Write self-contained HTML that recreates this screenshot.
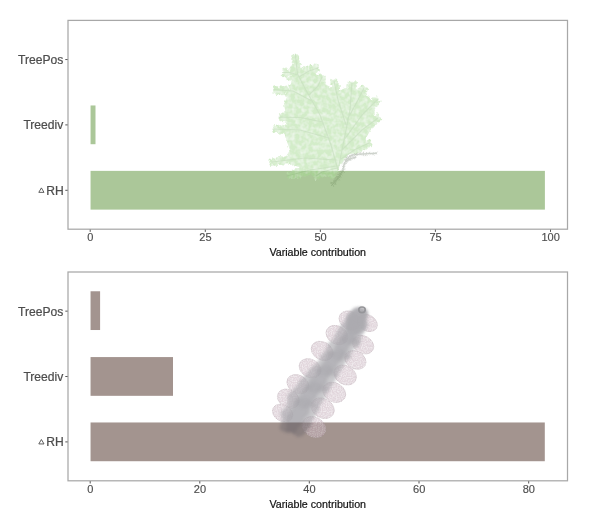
<!DOCTYPE html>
<html><head><meta charset="utf-8">
<style>
html,body{margin:0;padding:0;background:#fff;}
body{width:600px;height:519px;position:relative;overflow:hidden;font-family:"Liberation Sans",sans-serif;}
svg{position:absolute;left:0;top:0;will-change:transform;}
text{font-family:"Liberation Sans",sans-serif;}
.yl{font-size:12.1px;fill:#4d4d4d;text-anchor:end;stroke:#4d4d4d;stroke-width:0.22px;}
.xl{font-size:11px;fill:#4d4d4d;text-anchor:middle;stroke:#4d4d4d;stroke-width:0.15px;}
.xt{font-size:10.7px;fill:#111;text-anchor:middle;stroke:#111;stroke-width:0.2px;}
</style></head><body>
<svg width="600" height="519" viewBox="0 0 600 519">
<rect width="600" height="519" fill="#fff"/>
<g id="p1">
<rect x="90.55" y="105.47" width="4.95" height="38.75" fill="#abc799"/>
<rect x="90.55" y="170.87" width="454.35" height="38.75" fill="#abc799"/>

<defs>
<filter id="mf" x="-10%" y="-10%" width="120%" height="120%">
<feTurbulence type="fractalNoise" baseFrequency="0.35" numOctaves="2" seed="3" result="n"/>
<feDisplacementMap in="SourceGraphic" in2="n" scale="3" xChannelSelector="R" yChannelSelector="G" result="d"/>
<feTurbulence type="fractalNoise" baseFrequency="0.22" numOctaves="2" seed="8" result="n2"/>
<feColorMatrix in="n2" type="matrix" values="0 0 0 0 1  0 0 0 0 1  0 0 0 0 1  0 0 0 1.1 -0.42" result="w"/>
<feComposite in="w" in2="d" operator="in" result="wc"/>
<feMerge result="m"><feMergeNode in="d"/><feMergeNode in="wc"/></feMerge>
<feGaussianBlur in="m" stdDeviation="0.55"/>
</filter>
<filter id="b1"><feGaussianBlur stdDeviation="0.6"/></filter>
<filter id="tw"><feGaussianBlur stdDeviation="0.35"/></filter>
</defs>
<g opacity="0.5">
<g filter="url(#mf)">
<path d="M297.0 66.0 L306.0 72.0 L316.0 74.0 L322.0 82.0 L330.0 87.0 L337.5 92.0 L345.0 88.0 L354.0 88.0 L362.0 91.0 L369.0 97.0 L374.0 104.0 L375.0 118.0 L371.0 129.0 L365.0 140.0 L358.0 148.0 L348.0 155.0 L340.0 166.0 L320.0 168.0 L300.0 168.0 L284.0 160.0 L290.0 150.0 L284.0 133.0 L287.0 120.0 L284.0 104.0 L290.0 90.0 L292.0 78.0Z" fill="#a9dc95"/>
<path d="M328.9 139.3L320.6 137.3M328.9 139.3L334.5 131.0M327.8 136.3L319.5 134.4M327.8 136.3L332.1 130.2M326.7 133.3L318.2 132.0M326.7 133.3L330.4 127.3M325.6 130.3L318.8 129.3M325.6 130.3L329.4 122.5M324.5 127.3L315.3 126.4M324.5 127.3L329.5 120.7M323.4 124.3L317.3 121.5M323.4 124.3L326.8 117.3M322.3 121.3L316.1 119.0M322.3 121.3L325.8 116.2M321.2 118.3L314.2 117.3M321.2 118.3L325.7 112.5M320.1 115.3L313.2 113.9M320.1 115.3L323.6 109.3M318.6 112.5L310.5 113.1M318.6 112.5L322.4 105.8M317.0 109.7L310.9 108.5M317.0 109.7L318.8 103.8M315.4 106.9L308.4 106.0M315.4 106.9L318.3 100.3M313.9 104.1L306.6 104.3M313.9 104.1L315.6 99.3M312.3 101.3L305.4 100.6M312.3 101.3L315.1 94.9M310.7 98.6L305.8 98.3M310.7 98.6L313.0 92.6M309.1 95.8L304.4 95.0M309.1 95.8L312.5 90.1M307.6 93.0L303.0 92.1M307.6 93.0L308.9 88.5M306.0 90.2L300.4 88.8M306.0 90.2L308.4 85.4M304.5 87.3L300.1 87.1M304.5 87.3L306.7 83.6M303.0 84.5L298.9 83.9M303.0 84.5L304.7 80.5M301.6 81.7L296.2 81.6M301.6 81.7L304.0 78.2M300.1 78.9L296.2 78.2M300.1 78.9L302.5 74.6M298.6 76.0L295.0 76.2M298.6 76.0L300.0 72.5M297.4 73.1L293.7 70.8M297.4 73.1L299.8 70.3M297.0 69.9L294.2 68.4M297.0 69.9L299.7 67.7M296.7 66.7L293.7 65.0M296.7 66.7L299.8 64.0M296.3 63.6L293.1 62.3M296.3 63.6L298.3 61.3M296.0 60.4L292.6 59.0M296.0 60.4L297.9 58.2M295.6 57.2L292.6 56.1M295.6 57.2L297.9 55.8M299.0 77.0L299.3 67.6M299.0 77.0L306.7 79.2M301.7 75.4L301.2 69.1M301.7 75.4L307.7 78.6M304.5 73.7L304.2 67.6M304.5 73.7L311.0 76.1M307.2 72.1L307.2 66.8M307.2 72.1L312.0 73.7M310.1 70.6L310.9 65.5M310.1 70.6L314.6 73.5M313.1 69.6L315.0 65.0M313.1 69.6L316.1 71.5M316.1 68.6L317.6 65.5M316.1 68.6L318.7 70.3M297.5 75.0L290.1 79.1M297.5 75.0L296.3 67.2M294.5 74.0L288.0 79.4M294.5 74.0L292.5 66.6M291.4 73.0L286.7 75.4M291.4 73.0L290.7 68.0M288.3 72.5L286.0 77.3M288.3 72.5L286.1 69.0M285.1 72.5L283.2 75.8M285.1 72.5L283.6 69.3M309.0 95.0L307.7 88.1M309.0 95.0L317.6 97.8M311.3 92.7L309.3 84.8M311.3 92.7L319.2 95.3M313.5 90.5L312.0 84.3M313.5 90.5L320.9 92.8M315.8 88.2L314.2 82.6M315.8 88.2L322.4 89.6M318.0 85.9L315.4 81.1M318.0 85.9L323.4 85.1M319.3 83.0L317.2 79.9M319.3 83.0L324.6 82.7M320.6 80.1L318.7 76.6M320.6 80.1L324.6 79.4M321.9 77.2L320.2 74.9M321.9 77.2L324.4 76.9M312.0 101.0L306.0 104.4M312.0 101.0L310.2 93.0M309.2 99.5L301.7 103.4M309.2 99.5L309.3 91.3M306.3 98.0L299.9 100.1M306.3 98.0L305.9 91.1M303.5 96.5L297.6 98.7M303.5 96.5L302.9 88.5M300.7 95.0L295.4 98.8M300.7 95.0L300.2 88.9M297.8 93.5L292.9 96.0M297.8 93.5L298.0 86.7M295.0 92.1L289.1 94.8M295.0 92.1L293.9 86.2M292.1 90.9L289.2 94.6M292.1 90.9L289.6 85.5M288.9 90.7L286.2 95.3M288.9 90.7L286.1 87.1M285.7 90.5L282.7 93.7M285.7 90.5L283.5 87.1M282.5 90.3L279.8 93.6M282.5 90.3L280.9 86.8M279.3 90.1L276.6 93.4M279.3 90.1L277.3 87.7M276.1 89.9L273.4 92.3M276.1 89.9L274.4 86.8M323.0 122.0L318.0 127.9M323.0 122.0L319.4 116.1M319.9 121.4L313.4 125.8M319.9 121.4L315.6 113.7M316.7 120.8L311.4 124.5M316.7 120.8L313.4 113.6M313.6 120.2L308.5 125.6M313.6 120.2L311.6 112.5M310.4 119.5L304.8 124.0M310.4 119.5L307.1 113.8M307.3 118.9L303.5 122.5M307.3 118.9L303.8 113.0M304.2 118.3L300.0 121.9M304.2 118.3L301.6 112.5M301.0 117.7L297.2 122.1M301.0 117.7L299.4 112.6M297.8 117.5L293.7 121.7M297.8 117.5L294.9 112.3M294.6 117.4L292.1 120.8M294.6 117.4L292.4 112.9M291.4 117.4L289.1 120.9M291.4 117.4L289.1 113.0M288.2 117.3L285.5 121.1M288.2 117.3L285.5 114.1M285.0 117.3L283.1 120.7M285.0 117.3L283.1 114.0M281.8 117.2L280.5 119.8M281.8 117.2L280.3 113.8M329.0 138.0L323.1 144.0M329.0 138.0L327.5 130.4M325.9 137.1L318.7 142.5M325.9 137.1L323.5 130.8M322.8 136.3L317.3 141.8M322.8 136.3L319.1 129.6M319.7 135.4L312.7 139.7M319.7 135.4L316.1 128.1M316.7 134.6L312.0 139.3M316.7 134.6L313.9 129.1M313.6 133.7L308.7 138.5M313.6 133.7L311.5 126.4M310.5 132.9L304.7 137.7M310.5 132.9L307.0 126.2M307.4 132.0L303.2 135.6M307.4 132.0L305.9 126.5M304.3 131.2L299.6 135.2M304.3 131.2L302.2 124.9M301.2 130.3L297.1 133.5M301.2 130.3L300.0 124.2M298.1 129.9L295.7 134.0M298.1 129.9L294.8 124.7M294.9 129.8L291.4 133.5M294.9 129.8L292.2 125.6M291.7 129.7L288.2 133.0M291.7 129.7L288.8 125.1M288.5 129.6L286.3 133.2M288.5 129.6L286.1 125.8M285.3 129.5L282.2 132.5M285.3 129.5L283.0 126.1M282.1 129.3L280.0 133.2M282.1 129.3L280.2 126.5M278.9 129.2L277.0 131.6M278.9 129.2L277.3 125.7M275.7 129.1L273.7 131.5M275.7 129.1L274.3 126.7M336.0 160.0L329.1 166.6M336.0 160.0L330.0 153.1M332.8 159.8L327.8 164.9M332.8 159.8L327.9 152.8M329.6 159.6L325.3 165.5M329.6 159.6L326.6 153.6M326.4 159.4L322.4 164.4M326.4 159.4L322.3 154.0M323.2 159.2L318.5 164.8M323.2 159.2L319.5 153.4M320.0 159.0L315.0 163.9M320.0 159.0L317.1 153.5M316.8 158.8L312.5 164.3M316.8 158.8L313.2 152.2M313.6 158.6L308.6 163.8M313.6 158.6L310.7 152.3M310.5 158.4L305.7 163.5M310.5 158.4L308.2 153.1M307.3 158.1L304.7 162.8M307.3 158.1L303.1 152.9M304.1 158.1L302.0 162.8M304.1 158.1L300.1 154.8M300.9 158.5L297.9 163.7M300.9 158.5L296.4 154.7M297.7 158.9L295.7 163.3M297.7 158.9L294.6 156.1M294.5 159.3L292.8 164.1M294.5 159.3L290.3 155.6M291.4 159.7L289.6 163.8M291.4 159.7L288.6 156.1M288.2 160.0L285.9 163.1M288.2 160.0L285.3 157.7M285.0 160.4L283.1 164.0M285.0 160.4L281.9 157.7M281.8 160.8L280.0 163.6M281.8 160.8L279.6 157.3M278.7 161.2L276.3 164.4M278.7 161.2L277.1 158.7M275.5 161.6L274.3 164.5M275.5 161.6L273.5 159.4M272.3 162.0L270.9 164.5M272.3 162.0L269.9 160.1M337.0 166.0L334.0 174.4M337.0 166.0L331.9 160.8M333.8 166.5L329.7 174.1M333.8 166.5L328.4 161.9M330.7 166.9L326.1 173.1M330.7 166.9L325.4 160.0M327.5 167.4L324.9 174.8M327.5 167.4L322.1 162.1M324.3 167.9L321.1 174.3M324.3 167.9L319.4 161.4M321.2 168.3L319.3 174.1M321.2 168.3L316.8 162.7M318.0 168.8L314.7 174.9M318.0 168.8L313.8 163.0M314.8 169.3L312.5 175.2M314.8 169.3L310.2 164.7M311.7 169.8L308.2 174.7M311.7 169.8L308.0 166.0M308.5 170.4L306.8 174.4M308.5 170.4L304.5 166.6M305.4 171.2L304.6 175.5M305.4 171.2L301.3 168.0M302.4 172.0L300.8 176.6M302.4 172.0L298.7 169.1M299.3 172.8L297.7 177.6M299.3 172.8L296.1 169.6M296.2 173.6L293.9 177.6M296.2 173.6L293.3 170.7M293.1 174.4L291.8 177.4M293.1 174.4L290.6 172.7M290.0 175.2L288.5 177.9M290.0 175.2L288.0 173.0M337.0 168.0L334.1 175.9M337.0 168.0L329.7 161.6M333.9 168.8L331.3 177.3M333.9 168.8L326.8 164.4M330.8 169.6L329.0 176.4M330.8 169.6L327.1 165.4M327.7 170.5L325.9 175.4M327.7 170.5L323.7 167.1M324.6 171.3L322.0 176.1M324.6 171.3L319.9 167.5M321.6 172.3L321.7 176.8M321.6 172.3L317.5 171.0M318.9 174.0L318.9 178.0M318.9 174.0L315.8 172.5M316.3 175.8L315.8 178.5M316.3 175.8L313.6 175.2M342.4 148.0L336.5 142.8M342.4 148.0L350.7 145.7M343.0 144.9L337.6 137.1M343.0 144.9L352.9 142.3M343.6 141.8L338.0 137.3M343.6 141.8L351.2 138.4M344.3 138.6L338.3 131.1M344.3 138.6L352.3 136.5M344.9 135.5L339.0 129.2M344.9 135.5L353.8 132.7M345.5 132.3L340.8 125.9M345.5 132.3L352.9 129.0M346.2 129.2L342.4 123.7M346.2 129.2L352.6 125.3M346.8 126.1L341.6 121.2M346.8 126.1L353.0 122.7M347.4 122.9L342.6 117.6M347.4 122.9L354.5 119.9M348.0 119.8L341.7 115.0M348.0 119.8L354.4 116.3M348.7 116.7L344.3 113.2M348.7 116.7L355.3 114.1M349.3 113.5L345.6 108.9M349.3 113.5L355.4 111.0M349.9 110.4L345.5 106.1M349.9 110.4L355.6 107.1M350.2 107.2L345.7 104.6M350.2 107.2L356.2 104.6M350.4 104.0L347.4 100.6M350.4 104.0L354.7 101.3M350.7 100.8L346.9 96.8M350.7 100.8L354.8 97.4M350.9 97.6L347.4 95.2M350.9 97.6L355.3 95.2M351.1 94.4L347.6 91.6M351.1 94.4L354.6 92.1M351.3 91.2L347.2 88.6M351.3 91.2L354.3 88.9M351.6 88.0L347.8 85.2M351.6 88.0L355.3 85.3M351.8 84.9L349.0 82.2M351.8 84.9L355.5 82.4M346.0 125.0L337.3 123.9M346.0 125.0L350.8 118.9M345.0 122.0L336.5 120.6M345.0 122.0L349.4 115.6M344.0 118.9L337.7 117.8M344.0 118.9L347.1 113.3M343.1 115.9L336.1 113.6M343.1 115.9L347.3 109.5M342.1 112.8L335.4 109.6M342.1 112.8L346.0 108.2M341.1 109.8L336.1 107.8M341.1 109.8L345.7 104.6M340.1 106.7L335.1 104.4M340.1 106.7L344.0 102.5M339.2 103.7L334.3 101.4M339.2 103.7L343.0 98.9M338.2 100.6L332.2 99.7M338.2 100.6L341.8 95.7M337.5 97.5L332.6 95.0M337.5 97.5L340.5 94.1M336.8 94.4L331.8 93.0M336.8 94.4L339.5 91.2M336.2 91.2L332.6 89.5M336.2 91.2L338.8 88.2M335.5 88.1L332.4 86.9M335.5 88.1L338.4 85.1M334.8 85.0L331.3 83.6M334.8 85.0L337.1 83.0M334.2 81.8L331.2 80.3M334.2 81.8L335.9 80.0M347.0 120.0L343.1 112.5M347.0 120.0L356.7 119.5M348.5 117.2L345.9 108.9M348.5 117.2L356.5 117.1M350.1 114.4L348.2 108.5M350.1 114.4L358.0 114.6M351.6 111.6L348.8 106.5M351.6 111.6L357.6 111.5M353.2 108.8L350.7 102.5M353.2 108.8L358.9 108.7M354.7 106.0L351.6 100.9M354.7 106.0L360.3 105.0M356.3 103.2L353.1 97.7M356.3 103.2L361.6 102.7M357.8 100.4L355.1 95.8M357.8 100.4L363.4 99.6M359.2 97.5L356.6 93.3M359.2 97.5L364.3 97.3M360.7 94.7L358.0 91.0M360.7 94.7L365.3 94.2M362.1 91.8L360.2 88.8M362.1 91.8L366.0 91.1M363.5 88.9L362.5 86.2M363.5 88.9L366.9 89.0M344.0 140.0L342.3 132.3M344.0 140.0L351.4 139.9M345.9 137.4L342.3 130.9M345.9 137.4L352.6 137.0M347.7 134.8L345.3 128.7M347.7 134.8L356.1 134.0M349.6 132.2L347.7 126.4M349.6 132.2L357.1 133.4M351.5 129.6L350.3 123.9M351.5 129.6L357.7 129.1M353.3 127.0L350.9 121.5M353.3 127.0L360.2 126.4M355.2 124.4L353.8 119.0M355.2 124.4L360.8 125.0M357.1 121.8L355.1 116.5M357.1 121.8L363.8 121.9M359.0 119.2L356.6 114.6M359.0 119.2L365.5 118.9M360.8 116.6L358.2 111.8M360.8 116.6L366.2 116.2M362.8 114.2L361.5 110.1M362.8 114.2L368.4 114.9M365.1 111.9L364.3 107.2M365.1 111.9L369.2 113.4M367.4 109.6L367.0 105.0M367.4 109.6L371.0 110.2M369.6 107.4L368.6 103.6M369.6 107.4L373.9 108.3M371.9 105.1L371.7 101.8M371.9 105.1L375.4 105.4M374.2 102.8L373.5 99.0M374.2 102.8L377.6 104.1M376.4 100.6L375.9 97.8M376.4 100.6L379.1 101.3M342.0 150.0L340.1 143.5M342.0 150.0L350.9 152.6M344.3 147.7L343.6 141.0M344.3 147.7L352.8 148.0M346.5 145.5L345.3 138.1M346.5 145.5L355.2 147.3M348.8 143.2L347.9 135.1M348.8 143.2L356.7 144.4M351.1 140.9L350.8 133.1M351.1 140.9L358.7 141.5M353.3 138.7L352.1 132.2M353.3 138.7L358.8 140.3M355.6 136.4L355.0 130.7M355.6 136.4L360.8 137.0M357.8 134.2L356.4 128.6M357.8 134.2L363.2 135.5M360.1 131.9L359.5 127.3M360.1 131.9L365.2 133.7M362.4 129.7L361.9 124.0M362.4 129.7L366.4 130.8M365.0 127.8L365.3 122.7M365.0 127.8L369.6 129.2M367.5 125.9L366.8 122.3M367.5 125.9L372.3 126.9M370.1 123.9L370.3 119.8M370.1 123.9L373.7 125.2M372.7 122.0L372.7 118.6M372.7 122.0L375.9 123.3M375.2 120.1L375.4 117.1M375.2 120.1L378.7 121.0M377.8 118.2L377.6 114.8M377.8 118.2L380.8 119.0M351.6 151.8L352.7 145.0M351.6 151.8L356.8 153.0M354.2 150.0L353.9 144.0M354.2 150.0L358.9 151.6M357.1 148.5L357.9 142.9M357.1 148.5L361.0 150.3M360.0 147.2L361.2 143.4M360.0 147.2L364.1 148.8M362.9 145.8L363.8 141.3M362.9 145.8L366.3 148.0M365.8 144.5L366.0 140.7M365.8 144.5L368.8 146.0M368.7 143.1L369.6 140.5M368.7 143.1L371.0 144.7" fill="none" stroke="#a7db93" stroke-width="2.8" stroke-linecap="round"/>
</g>
<path d="M338.0 170.0 L331.0 145.0 L320.0 115.0 L307.0 92.0 L297.5 74.0 L295.3 54.2M299.0 77.0 L309.0 71.0 L318.5 67.8M297.5 75.0 L290.0 72.5 L282.5 72.5M309.0 95.0 L318.0 86.0 L322.0 77.0M312.0 101.0 L293.0 91.0 L273.5 89.7M323.0 122.0 L300.0 117.5 L279.0 117.2M329.0 138.0 L300.0 130.0 L273.0 129.0M336.0 160.0 L305.0 158.0 L272.0 162.0M337.0 166.0 L310.0 170.0 L287.0 176.0M337.0 168.0 L322.0 172.0 L316.0 176.0M338.0 170.0 L344.0 140.0 L350.0 110.0 L352.0 82.0M346.0 125.0 L338.0 100.0 L334.0 81.0M347.0 120.0 L358.0 100.0 L364.0 88.0M344.0 140.0 L362.0 115.0 L378.0 99.0M342.0 150.0 L362.0 130.0 L378.0 118.0M341.0 159.0 L355.0 149.5 L369.0 143.0" fill="none" stroke="#93c283" stroke-width="1.2" stroke-linecap="round" stroke-linejoin="round" filter="url(#b1)" opacity="0.7"/>
<g fill="none" stroke-linecap="round" filter="url(#tw)" opacity="0.72">
<path d="M342.7 170.7 L344.0 165.0 L346.0 160.0 L349.0 157.0 L352.5 155.0 L358.0 154.3 L363.3 154.0 L370.0 153.5 L376.3 153.2M346.0 161.5 L351.0 158.5 L356.0 157.2" stroke="#748170" stroke-width="1.05"/>
<path d="M342.7 170.7L342.1 169.7M342.7 170.7L343.9 170.0M343.1 169.1L342.4 168.4M343.1 169.1L345.1 169.0M343.4 167.6L342.3 166.1M343.4 167.6L344.8 166.9M343.8 166.0L343.2 165.1M343.8 166.0L344.9 166.0M344.2 164.5L342.7 163.2M344.2 164.5L346.0 163.8M344.8 163.0L343.9 162.1M344.8 163.0L346.6 163.2M345.4 161.5L344.7 159.6M345.4 161.5L347.1 161.5M346.0 160.0L345.3 158.6M346.0 160.0L347.3 159.4M347.1 158.9L346.1 157.1M347.1 158.9L348.7 159.1M348.2 157.8L347.6 155.8M348.2 157.8L350.0 158.7M349.5 156.7L349.6 155.2M349.5 156.7L350.9 157.5M350.8 155.9L351.0 154.9M350.8 155.9L352.7 156.3M352.2 155.2L352.2 154.2M352.2 155.2L353.3 155.8M353.8 154.8L354.5 153.5M353.8 154.8L355.4 156.2M355.4 154.6L356.2 153.5M355.4 154.6L356.6 155.8M357.0 154.4L357.3 153.1M357.0 154.4L357.7 155.5M358.5 154.3L359.9 152.8M358.5 154.3L359.2 155.0M360.1 154.2L360.8 152.5M360.1 154.2L360.9 155.1M361.7 154.1L362.3 153.1M361.7 154.1L362.2 155.0M363.3 154.0L363.6 152.0M363.3 154.0L363.8 155.8M364.9 153.9L365.5 153.1M364.9 153.9L365.8 155.8M366.5 153.8L366.7 152.4M366.5 153.8L367.2 155.3M368.1 153.6L368.9 152.6M368.1 153.6L369.2 154.6M369.7 153.5L369.9 152.2M369.7 153.5L370.8 154.3M371.3 153.4L371.9 152.7M371.3 153.4L372.5 154.9M372.9 153.4L373.8 152.4M372.9 153.4L374.2 155.1M374.5 153.3L375.3 152.5M374.5 153.3L375.2 154.0M376.1 153.2L377.3 151.9M376.1 153.2L376.6 154.0M346.0 161.5L345.7 160.0M346.0 161.5L347.2 162.7M347.4 160.7L346.9 159.1M347.4 160.7L348.1 161.1M348.7 159.9L348.5 158.0M348.7 159.9L350.5 160.3M350.1 159.0L350.3 157.7M350.1 159.0L351.3 159.8M351.6 158.4L351.9 157.6M351.6 158.4L352.1 159.3M353.1 158.0L353.9 156.5M353.1 158.0L354.6 158.8M354.6 157.6L355.4 156.3M354.6 157.6L355.0 158.2" stroke="#74826f" stroke-width="0.8"/>
<path d="M342.7 170.7 L340.0 175.0 L336.5 180.0 L331.5 185.5" stroke="#6d8a5c" stroke-width="1.0"/>
<path d="M342.7 170.7L344.4 172.6M342.7 170.7L340.7 171.0M341.8 172.1L342.5 173.1M341.8 172.1L339.9 171.7M340.9 173.6L342.0 175.0M340.9 173.6L339.3 173.2M340.0 175.0L340.9 177.3M340.0 175.0L337.9 174.6M339.0 176.4L339.7 177.8M339.0 176.4L336.5 176.6M338.0 177.8L339.4 180.0M338.0 177.8L335.4 177.9M337.1 179.2L337.9 180.3M337.1 179.2L334.5 179.1M336.0 180.5L336.1 181.9M336.0 180.5L333.8 180.4M334.9 181.8L335.9 184.4M334.9 181.8L333.4 181.3M333.7 183.0L334.8 184.5M333.7 183.0L331.1 182.4M332.6 184.3L333.6 186.4M332.6 184.3L330.4 183.0" stroke="#6d8a5c" stroke-width="0.8"/>
</g>
</g>

<rect x="68.0" y="20.4" width="499.5" height="208.8" fill="none" stroke="#a8a8a8" stroke-width="1.25"/>
<g stroke="#555" stroke-width="1">
<line x1="65.3" y1="59.55" x2="67.6" y2="59.55"/>
<line x1="65.3" y1="124.90" x2="67.6" y2="124.90"/>
<line x1="65.3" y1="190.30" x2="67.6" y2="190.30"/>
<line x1="90.2" y1="229.6" x2="90.2" y2="231.9"/>
<line x1="205.3" y1="229.6" x2="205.3" y2="231.9"/>
<line x1="320.35" y1="229.6" x2="320.35" y2="231.9"/>
<line x1="435.4" y1="229.6" x2="435.4" y2="231.9"/>
<line x1="550.5" y1="229.6" x2="550.5" y2="231.9"/>
</g>
<text class="yl" x="63.3" y="64.00">TreePos</text>
<text class="yl" x="63.3" y="129.35">Treediv</text>
<text class="yl" x="63.8" y="194.75">RH</text>
<path d="M38.8 192.35 L41.4 187.90 L44.0 192.35 Z" fill="none" stroke="#4d4d4d" stroke-width="0.9" stroke-linejoin="miter"/>
<text class="xl" x="90.35000000000001" y="241.35">0</text>
<text class="xl" x="205.45000000000002" y="241.35">25</text>
<text class="xl" x="320.5" y="241.35">50</text>
<text class="xl" x="435.54999999999995" y="241.35">75</text>
<text class="xl" x="550.65" y="241.35">100</text>
<text class="xt" x="317.7" y="256.10">Variable contribution</text>
</g>
<g id="p2">
<rect x="90.55" y="291.27" width="9.55" height="38.75" fill="#a3948f"/>
<rect x="90.55" y="357.07" width="82.45" height="38.75" fill="#a3948f"/>
<rect x="90.55" y="422.47" width="454.25" height="38.75" fill="#a3948f"/>

<defs>
<filter id="b2" x="-20%" y="-20%" width="140%" height="140%">
<feTurbulence type="fractalNoise" baseFrequency="0.09" numOctaves="2" seed="5" result="n"/>
<feDisplacementMap in="SourceGraphic" in2="n" scale="6" xChannelSelector="R" yChannelSelector="G" result="d"/>
<feGaussianBlur in="d" stdDeviation="1.4"/></filter>
<filter id="b3" x="-5%" y="-5%" width="110%" height="110%">
<feTurbulence type="fractalNoise" baseFrequency="0.8" numOctaves="1" seed="9" result="n"/>
<feColorMatrix in="n" type="matrix" values="0 0 0 0 1  0 0 0 0 1  0 0 0 0 1  0 0 0 1.3 -0.5" result="w"/>
<feComposite in="w" in2="SourceAlpha" operator="in" result="wc"/>
<feMerge result="m"><feMergeNode in="SourceGraphic"/><feMergeNode in="wc"/></feMerge>
<feGaussianBlur in="m" stdDeviation="0.45"/></filter>
<filter id="b4"><feGaussianBlur stdDeviation="0.5"/></filter>
</defs>
<g opacity="0.5">
<g fill="#c6aebb" stroke="#a58e9a" stroke-width="0.8" filter="url(#b3)"><ellipse cx="350.0" cy="320.6" rx="11.5" ry="8.9" transform="rotate(30 350.0 320.6)"/><ellipse cx="337.0" cy="335.0" rx="11.5" ry="8.9" transform="rotate(30 337.0 335.0)"/><ellipse cx="322.2" cy="350.9" rx="11.5" ry="8.9" transform="rotate(30 322.2 350.9)"/><ellipse cx="310.1" cy="368.3" rx="11.5" ry="8.9" transform="rotate(30 310.1 368.3)"/><ellipse cx="297.9" cy="384.2" rx="11.5" ry="8.9" transform="rotate(30 297.9 384.2)"/><ellipse cx="288.4" cy="398.7" rx="11.5" ry="8.9" transform="rotate(30 288.4 398.7)"/><ellipse cx="282.6" cy="413.1" rx="10.7" ry="8.1" transform="rotate(30 282.6 413.1)"/><ellipse cx="367.4" cy="322.9" rx="10.5" ry="7.9" transform="rotate(30 367.4 322.9)"/><ellipse cx="363.1" cy="344.6" rx="11.2" ry="8.6" transform="rotate(30 363.1 344.6)"/><ellipse cx="355.3" cy="359.9" rx="11.2" ry="8.6" transform="rotate(30 355.3 359.9)"/><ellipse cx="345.1" cy="375.0" rx="11.8" ry="9.2" transform="rotate(30 345.1 375.0)"/><ellipse cx="334.2" cy="392.3" rx="12.0" ry="9.4" transform="rotate(30 334.2 392.3)"/><ellipse cx="322.6" cy="408.2" rx="12.2" ry="9.6" transform="rotate(30 322.6 408.2)"/><ellipse cx="313.9" cy="427.0" rx="12.4" ry="9.8" transform="rotate(30 313.9 427.0)"/></g>
<path d="M357.5 307.9 L348.1 316.4 L338.7 333.1 L327.9 348.0 L316.3 364.0 L303.1 379.4 L290.2 394.6 L282.6 413.1 L281.6 428.7 L299.2 436.0 L309.1 424.8 L317.1 410.1 L325.3 394.9 L335.2 377.1 L345.9 360.7 L357.6 344.4 L366.1 325.1 L366.5 312.1Z" fill="#5a5862" stroke="#5a5862" stroke-width="2" stroke-linejoin="round" filter="url(#b2)" opacity="0.66"/>
<g fill="#5a5761" filter="url(#b2)" opacity="0.5"><path d="M351.2 333.7 L361.0 344.2 L346.2 344.7 Z"/><path d="M339.9 349.3 L352.0 359.6 L334.9 360.3 Z"/><path d="M328.8 365.5 L341.4 375.1 L323.8 376.5 Z"/><path d="M317.2 382.1 L330.3 392.1 L312.2 393.1 Z"/><path d="M306.7 397.3 L319.1 407.8 L301.7 408.3 Z"/><path d="M350.2 332.7 L341.1 338.1 L345.2 343.7 Z"/><path d="M338.9 348.3 L327.9 353.9 L333.9 359.3 Z"/><path d="M327.8 364.5 L316.2 370.8 L322.8 375.5 Z"/><path d="M316.2 381.1 L304.3 387.0 L311.2 392.1 Z"/><path d="M305.7 396.3 L294.3 401.8 L300.7 407.3 Z"/></g>
<path d="M359.7 309.0 L352.6 318.6 L343.5 335.9 L332.4 351.2 L321.0 367.3 L308.6 383.3 L297.0 398.5 L289.2 416.0 L286.0 430.5 L294.8 434.1 L302.5 421.9 L310.4 406.2 L319.7 391.0 L330.5 373.8 L341.4 357.5 L352.9 341.6 L361.6 322.9 L364.3 311.0Z" fill="#4c4a54" stroke="#4c4a54" stroke-width="2" stroke-linejoin="round" filter="url(#b2)" opacity="0.55"/>
<ellipse cx="357" cy="321.5" rx="9.5" ry="14.5" transform="rotate(27 357 321.5)" fill="#5a5862" filter="url(#b2)" opacity="0.85"/>
<ellipse cx="362" cy="309.8" rx="3.2" ry="2.8" fill="none" stroke="#2e2e36" stroke-width="1.7" filter="url(#b4)"/>
</g>

<rect x="68.0" y="272.0" width="499.5" height="208.8" fill="none" stroke="#a8a8a8" stroke-width="1.25"/>
<g stroke="#555" stroke-width="1">
<line x1="65.3" y1="311.15" x2="67.6" y2="311.15"/>
<line x1="65.3" y1="376.50" x2="67.6" y2="376.50"/>
<line x1="65.3" y1="441.90" x2="67.6" y2="441.90"/>
<line x1="90.2" y1="481.2" x2="90.2" y2="483.5"/>
<line x1="199.8" y1="481.2" x2="199.8" y2="483.5"/>
<line x1="309.3" y1="481.2" x2="309.3" y2="483.5"/>
<line x1="419.0" y1="481.2" x2="419.0" y2="483.5"/>
<line x1="528.7" y1="481.2" x2="528.7" y2="483.5"/>
</g>
<text class="yl" x="63.3" y="315.60">TreePos</text>
<text class="yl" x="63.3" y="380.95">Treediv</text>
<text class="yl" x="63.8" y="446.35">RH</text>
<path d="M38.8 443.95 L41.4 439.50 L44.0 443.95 Z" fill="none" stroke="#4d4d4d" stroke-width="0.9" stroke-linejoin="miter"/>
<text class="xl" x="90.35000000000001" y="492.95">0</text>
<text class="xl" x="199.95000000000002" y="492.95">20</text>
<text class="xl" x="309.45" y="492.95">40</text>
<text class="xl" x="419.15" y="492.95">60</text>
<text class="xl" x="528.85" y="492.95">80</text>
<text class="xt" x="317.7" y="507.70">Variable contribution</text>
</g>
</svg>
</body></html>
